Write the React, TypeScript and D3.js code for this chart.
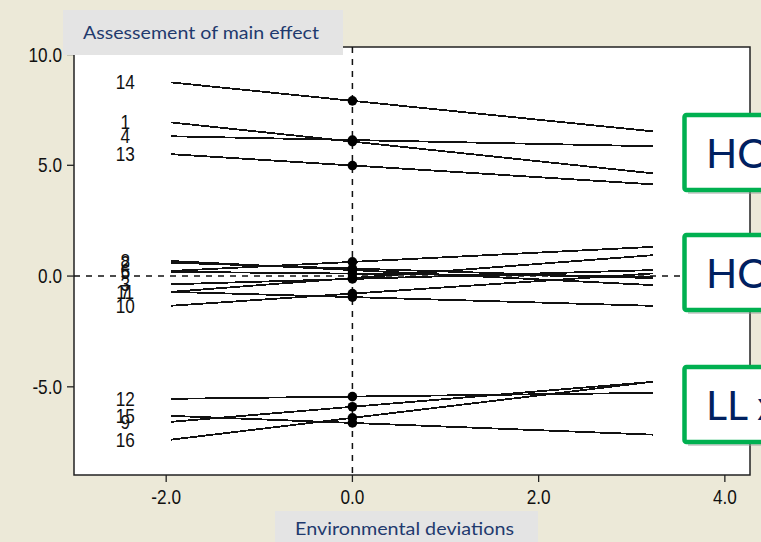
import React from "react";
import * as d3 from "d3";

const genotypes = ["14", "1", "4", "13", "8", "2", "6", "5", "3", "11", "7", "10", "12", "15", "9", "16"];
const mainEffect = [7.91, 6.07, 6.14, 4.99, 0.27, 0.34, 0.64, 0.11, -0.13, -0.09, -0.95, -0.79, -5.44, -6.63, -5.9, -6.4];
const slopes = [-0.427, -0.444, -0.087, -0.263, -0.21, -0.135, 0.21, -0.042, 0.124, 0.32, -0.122, 0.282, 0.052, -0.164, 0.349, 0.506];
const envRange = [-1.95, 3.23];
const yTicks = [10, 5, 0, -5];
const xTicks = [-2, 0, 2, 4];
const boxLabels = ["HO", "HO", "LL x"];
const yTitle = "Assessement of main effect";
const xTitle = "Environmental deviations";

const W = 761;
const H = 542;
const plot = { left: 74, top: 47, right: 750, bottom: 475 };

function NarrowText(props: { x: number; y: number; anchor: string; children: React.ReactNode }) {
  return (
    <text
      transform={`translate(${props.x},${props.y}) scale(0.86,1)`}
      textAnchor={props.anchor}
      dominantBaseline="central"
      fontFamily="'Liberation Sans', Arial, sans-serif"
      fontSize={20}
      fill="#111"
    >
      {props.children}
    </text>
  );
}

export default function App() {
  const x = d3.scaleLinear().domain([-2.99, 4.27]).range([plot.left, plot.right]);
  const y = d3.scaleLinear().domain([-8.98, 10.34]).range([plot.bottom, plot.top]);
  const labelX = x(-2.44);
  const titleFont = "Lato, 'Open Sans', sans-serif";

  const boxYs = [115, 235, 367];

  return (
    <div style={{ position: "fixed", left: 0, top: 0 }}>
      <svg width={W} height={H} style={{ display: "block" }}>
        <rect x={0} y={0} width={W} height={H} fill="#ECE9D8" />
        <rect
          x={plot.left}
          y={plot.top}
          width={plot.right - plot.left}
          height={plot.bottom - plot.top}
          fill="#ffffff"
          stroke="#222"
          strokeWidth={1.5}
        />
        {/* y axis ticks */}
        {yTicks.map((t) => (
          <g key={"y" + t}>
            <line x1={plot.left - 7} x2={plot.left} y1={y(t)} y2={y(t)} stroke="#222" strokeWidth={1.3} />
            <NarrowText x={plot.left - 12} y={y(t)} anchor="end">
              {t.toFixed(1)}
            </NarrowText>
          </g>
        ))}
        {/* x axis ticks */}
        {xTicks.map((t) => (
          <g key={"x" + t}>
            <line x1={x(t)} x2={x(t)} y1={plot.bottom} y2={plot.bottom + 7} stroke="#222" strokeWidth={1.3} />
            <NarrowText x={x(t)} y={plot.bottom + 22} anchor="middle">
              {t.toFixed(1)}
            </NarrowText>
          </g>
        ))}
        {/* reference dashed lines */}
        <line
          x1={x(0)}
          x2={x(0)}
          y1={plot.top}
          y2={plot.bottom}
          stroke="#111"
          strokeWidth={1.5}
          strokeDasharray="6,6"
        />
        <line
          x1={plot.left}
          x2={plot.right}
          y1={y(0)}
          y2={y(0)}
          stroke="#111"
          strokeWidth={1.5}
          strokeDasharray="6,6"
        />
        {/* genotype lines */}
        {genotypes.map((g, i) => {
          const pts: [number, number][] = envRange.map((e) => [x(e), y(mainEffect[i] + slopes[i] * e)]);
          const path = d3.line()(pts) || "";
          return (
            <path key={"l" + g} d={path} fill="none" stroke="#111" strokeWidth={1.8} shapeRendering="crispEdges" />
          );
        })}
        {genotypes.map((g, i) => (
          <circle key={"c" + g} cx={x(0)} cy={y(mainEffect[i])} r={4.8} fill="#000" />
        ))}
        {genotypes.map((g, i) => (
          <NarrowText key={"t" + g} x={labelX} y={y(mainEffect[i] + slopes[i] * envRange[0])} anchor="middle">
            {g}
          </NarrowText>
        ))}
        {/* title boxes */}
        <rect x={63} y={10} width={280} height={45} fill="#E4E4E4" />
        <text x={83} y={39} fontFamily={titleFont} fontSize={17.5} fill="#1F3A6E" textLength={236} lengthAdjust="spacingAndGlyphs">
          {yTitle}
        </text>
        <rect x={275} y={511} width={263} height={40} fill="#E4E4E4" />
        <text x={295} y={535} fontFamily={titleFont} fontSize={17.5} fill="#1F3A6E" textLength={219} lengthAdjust="spacingAndGlyphs">
          {xTitle}
        </text>
        {/* green callout boxes */}
        {boxLabels.map((b, i) => (
          <g key={"b" + i}>
            <rect x={688} y={boxYs[i] + 4} width={120} height={75} fill="#9a9a9a" opacity={0.45} />
            <rect x={684.5} y={boxYs[i]} width={120} height={75} fill="#fff" stroke="#00B050" strokeWidth={4.5} rx={2} />
            <text x={706} y={boxYs[i] + 53} fontFamily={titleFont} fontSize={41} fill="#002060">
              {b}
            </text>
          </g>
        ))}
      </svg>
    </div>
  );
}
